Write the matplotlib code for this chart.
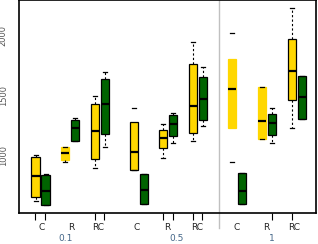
import matplotlib
matplotlib.use("Agg")
import matplotlib.pyplot as plt
import matplotlib.transforms as mtransforms

# data: (med, q1, q3, whislo, whishi) per box
groups = ["0.1", "0.5", "1"]
treatments = ["C", "R", "RC"]
yellow_stats = [
    (833, 658, 992, 625, 1008),
    (1025, 967, 1075, 950, 1075),
    (1208, 975, 1433, 900, 1500),
    (1033, 883, 1283, 883, 1400),
    (1150, 1067, 1217, 983, 1267),
    (1417, 1192, 1767, 1125, 1950),
    (1558, 1233, 1808, 950, 2025),
    (1292, 1142, 1575, 1142, 1575),
    (1708, 1467, 1975, 1233, 2233),
]
green_stats = [
    (708, 592, 842, 592, 850),
    (1233, 1125, 1300, 1125, 1317),
    (1433, 1183, 1642, 1075, 1700),
    (717, 600, 850, 600, 850),
    (1267, 1167, 1342, 1108, 1358),
    (1475, 1300, 1658, 1250, 1742),
    (708, 600, 858, 600, 858),
    (1275, 1175, 1350, 1108, 1400),
    (1492, 1308, 1667, 1308, 1667),
]
yticks = [1000, 1500, 2000]

# layout (pixel-like x coordinates)
yellow_pos = [35.5, 65, 95, 134, 163, 193, 232, 262, 292]
green_pos = [45.5, 75, 105, 144, 173, 203, 242, 272, 302]
tick_marks = [35, 45, 95, 104, 163, 173, 193, 202, 272, 292]
label_pos = [42, 71, 98, 137, 167, 197, 237, 266, 294]
group_pos = [66, 177, 272]
no_edge_yellow = {1, 6, 7}
no_whisk_yellow = {3, 6}

W, H = 318, 244
fig = plt.figure(figsize=(W / 100, H / 100), dpi=100)
ax = fig.add_axes([19 / W, (H - 213) / H, 297 / W, 213 / H])

def mk(s):
    med, q1, q3, lo, hi = s
    return dict(med=med, q1=q1, q3=q3, whislo=lo, whishi=hi, fliers=[])

def draw(stats, pos, color, noedge=(), nowhisk=()):
    res = ax.bxp([mk(s) for s in stats], positions=pos, widths=8.5,
                 patch_artist=True, showfliers=False, manage_ticks=False,
                 boxprops=dict(facecolor=color, edgecolor="black", linewidth=0.9),
                 medianprops=dict(color="black", linewidth=1.6),
                 whiskerprops=dict(color="black", linewidth=0.8, linestyle=(0, (2, 2))),
                 capprops=dict(color="black", linewidth=0.9), capwidths=4)
    for i, b in enumerate(res["boxes"]):
        if i in noedge:
            b.set_edgecolor(color)
    for i in nowhisk:
        res["whiskers"][2 * i].set_visible(False)
        res["whiskers"][2 * i + 1].set_visible(False)

draw(yellow_stats, yellow_pos, "#FFD700", no_edge_yellow, no_whisk_yellow)
draw(green_stats, green_pos, "#006400")

ax.set_xlim(19, 316)
ax.set_ylim(525, 2300)

ax.axvline(219, color="#c0c0c0", linewidth=1, zorder=0)
ax.plot([219, 219], [525, 400], color="#c0c0c0", linewidth=1, clip_on=False)

ax.set_xticks(tick_marks, minor=True)
ax.set_xticks(label_pos)
ax.set_xticklabels(treatments * 3, fontsize=6.5, color="#222222")
ax.tick_params(axis="x", which="major", length=0, pad=7)
ax.tick_params(axis="x", which="minor", length=5, width=0.8, color="black")

ax.set_yticks(yticks)
ax.set_yticklabels([str(v) for v in yticks], rotation=90, va="center",
                   fontsize=6, color="#555555")
ax.tick_params(axis="y", length=0, pad=8)

trans = mtransforms.blended_transform_factory(ax.transData, fig.transFigure)
for g, x in zip(groups, group_pos):
    ax.text(x, 1 - 238.5 / H, g, transform=trans, fontsize=6.5, color="#446688",
            ha="center", va="center", clip_on=False)

for sp in ax.spines.values():
    sp.set_linewidth(1.2)

fig.savefig("out.png", dpi=100)
